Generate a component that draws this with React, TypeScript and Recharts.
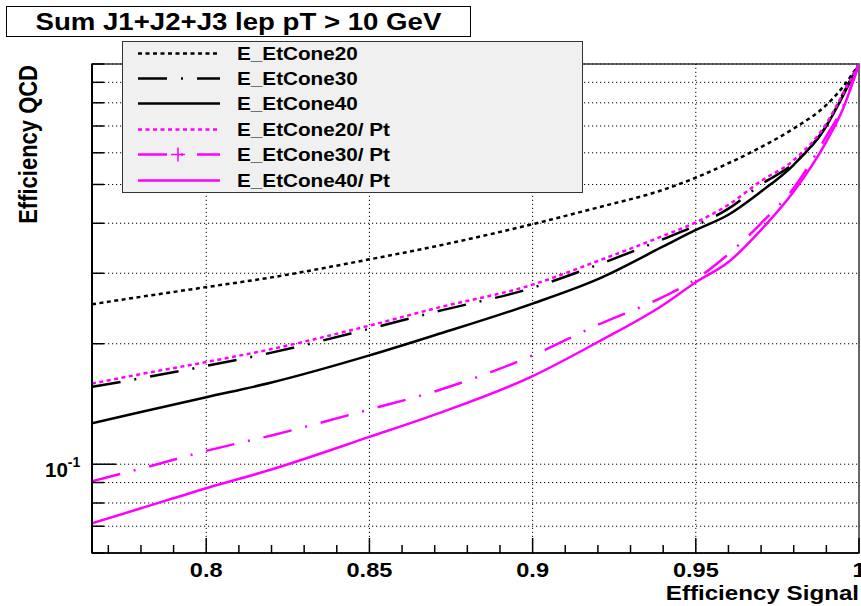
import { LineChart, Line, XAxis, YAxis, CartesianGrid, ReferenceLine, ReferenceArea, Legend } from 'recharts'

// signal efficiency (x) and QCD efficiency (y) for each isolation cut
const EFF_SIGNAL = [0.765, 0.78, 0.8, 0.82, 0.85, 0.87, 0.9, 0.92, 0.94, 0.95, 0.96, 0.97, 0.98, 0.99, 0.995, 1.0]
const ETCONE20 = [0.251, 0.262, 0.277, 0.293, 0.325, 0.35, 0.398, 0.438, 0.485, 0.52, 0.565, 0.62, 0.69, 0.79, 0.875, 1.0]
const ETCONE30 = [0.156, 0.164, 0.176, 0.19, 0.218, 0.24, 0.276, 0.315, 0.365, 0.395, 0.435, 0.5, 0.565, 0.7, 0.84, 1.0]
const ETCONE40 = [0.1266, 0.135, 0.147, 0.16, 0.187, 0.21, 0.252, 0.29, 0.35, 0.385, 0.42, 0.48, 0.56, 0.7, 0.83, 1.0]
const ETCONE20_PT = [0.159, 0.168, 0.18, 0.194, 0.222, 0.245, 0.281, 0.322, 0.372, 0.402, 0.445, 0.51, 0.575, 0.71, 0.84, 1.0]
const ETCONE30_PT = [0.0907, 0.0975, 0.108, 0.118, 0.137, 0.152, 0.187, 0.223, 0.262, 0.29, 0.335, 0.4, 0.49, 0.66, 0.78, 1.0]
const ETCONE40_PT = [0.0712, 0.0776, 0.0871, 0.097, 0.117, 0.133, 0.166, 0.202, 0.25, 0.285, 0.32, 0.385, 0.48, 0.64, 0.77, 1.0]

const X_TICKS = [0.77, 0.78, 0.79, 0.8, 0.81, 0.82, 0.83, 0.84, 0.85, 0.86, 0.87, 0.88, 0.89, 0.9, 0.91, 0.92, 0.93, 0.94, 0.95, 0.96, 0.97, 0.98, 0.99, 1]
const X_LABELS = [0.8, 0.85, 0.9, 0.95, 1]
const Y_TICKS = [0.06, 0.07, 0.08, 0.09, 0.1, 0.2, 0.3, 0.4, 0.5, 0.6, 0.7, 0.8, 0.9, 1]

const DOTTED = '4 3.5'
const DASH_DOT = '29 14 2 14'

const SERIES = [
    { key: 'e20', name: 'E_EtCone20', values: ETCONE20, color: '#000000', dash: DOTTED, marker: false },
    { key: 'e30', name: 'E_EtCone30', values: ETCONE30, color: '#000000', dash: DASH_DOT, marker: false },
    { key: 'e40', name: 'E_EtCone40', values: ETCONE40, color: '#000000', dash: undefined, marker: false },
    { key: 'e20pt', name: 'E_EtCone20/ Pt', values: ETCONE20_PT, color: '#ff00ff', dash: DOTTED, marker: false },
    { key: 'e30pt', name: 'E_EtCone30/ Pt', values: ETCONE30_PT, color: '#ff00ff', dash: DASH_DOT, marker: true },
    { key: 'e40pt', name: 'E_EtCone40/ Pt', values: ETCONE40_PT, color: '#ff00ff', dash: undefined, marker: false },
]

const data = EFF_SIGNAL.map((x, i) => {
    const row: Record<string, number> = { x }
    SERIES.forEach((s) => { row[s.key] = s.values[i] })
    return row
})

const FONT = '"Liberation Sans", Arial, Helvetica, sans-serif'
const PLOT_LEFT = 92
const PLOT_BOTTOM = 553
const STRETCH = 1.15

const XTick = (props: any) => {
    const { x, payload } = props
    const major = X_LABELS.includes(payload.value)
    return (
        <g>
            <line x1={x} x2={x} y1={PLOT_BOTTOM} y2={PLOT_BOTTOM - (major ? 15 : 8)} stroke="#000" strokeWidth={1.5} />
            {major && (
                <text
                    transform={`translate(${x},577) scale(${STRETCH},1)`}
                    textAnchor="middle"
                    fontFamily={FONT}
                    fontWeight="bold"
                    fontSize={20.5}
                    fill="#000"
                >
                    {String(payload.value)}
                </text>
            )}
        </g>
    )
}

const YTick = (props: any) => {
    const { y, payload } = props
    const major = payload.value === 0.1
    return (
        <g>
            <line x1={PLOT_LEFT} x2={PLOT_LEFT + (major ? 24 : 12)} y1={y} y2={y} stroke="#000" strokeWidth={1.5} />
            {major && (
                <text x={45} y={y + 13} fontFamily={FONT} fontWeight="bold" fontSize={20.5} fill="#000">
                    10<tspan dy={-10} fontSize={14}>-1</tspan>
                </text>
            )}
        </g>
    )
}

const LegendBox = () => (
    <div
        style={{
            position: 'relative',
            width: 461,
            height: 152,
            boxSizing: 'border-box',
            background: '#f0f0f0',
            border: '1.5px solid #333',
        }}
    >
        {SERIES.map((s, i) => {
            const cy = 11 + i * 25.4
            return (
                <div key={s.key} style={{ position: 'absolute', left: 0, top: cy - 12.5, height: 25, width: 459 }}>
                    <svg width={110} height={25} style={{ position: 'absolute', left: 0, top: 0 }}>
                        <line x1={15} x2={97} y1={12.5} y2={12.5} stroke={s.color} strokeWidth={2.5} strokeDasharray={s.dash} />
                        {s.marker && (
                            <g stroke={s.color} strokeWidth={1.5}>
                                <line x1={48} x2={62} y1={12.5} y2={12.5} />
                                <line x1={55} x2={55} y1={5.5} y2={19.5} />
                            </g>
                        )}
                    </svg>
                    <span
                        style={{
                            position: 'absolute',
                            left: 114,
                            top: 1,
                            fontFamily: FONT,
                            fontWeight: 'bold',
                            fontSize: 18,
                            lineHeight: '24px',
                            whiteSpace: 'nowrap',
                            transform: `scaleX(${STRETCH})`,
                            transformOrigin: 'left center',
                        }}
                    >
                        {s.name}
                    </span>
                </div>
            )
        })}
    </div>
)

export default function App() {
    return (
        <div style={{ position: 'absolute', left: 0, top: 0, width: 861, height: 606, background: '#fff', overflow: 'hidden' }}>
            <LineChart width={861} height={606} data={data} margin={{ top: 64, right: 2, bottom: 23, left: 32 }}>
                <CartesianGrid vertical={false} stroke="#000" strokeDasharray="1.2 2.8" />
                {X_LABELS.filter((v) => v < 1).map((v) => (
                    <ReferenceLine key={v} x={v} stroke="#000" strokeDasharray="1.2 2.8" />
                ))}
                <XAxis
                    dataKey="x"
                    type="number"
                    domain={[0.765, 1]}
                    allowDataOverflow
                    ticks={X_TICKS}
                    interval={0}
                    height={30}
                    axisLine={{ stroke: '#000', strokeWidth: 1.5 }}
                    tickLine={false}
                    tick={XTick}
                />
                <YAxis
                    type="number"
                    scale="log"
                    domain={[0.06, 1]}
                    allowDataOverflow
                    ticks={Y_TICKS}
                    interval={0}
                    width={60}
                    axisLine={{ stroke: '#000', strokeWidth: 2 }}
                    tickLine={false}
                    tick={YTick}
                />
                <ReferenceArea x1={0.765} x2={1} y1={0.06} y2={1} fill="none" stroke="#333" strokeWidth={1.5} />
                {SERIES.map((s) => (
                    <Line
                        key={s.key}
                        dataKey={s.key}
                        name={s.name}
                        type="monotone"
                        stroke={s.color}
                        strokeWidth={2.5}
                        strokeDasharray={s.dash}
                        dot={false}
                        isAnimationActive={false}
                    />
                ))}
                <Legend
                    layout="vertical"
                    align="center"
                    verticalAlign="middle"
                    content={LegendBox}
                    wrapperStyle={{ left: 122, top: 41, width: 461, height: 152 }}
                />
            </LineChart>
            <div
                style={{
                    position: 'absolute',
                    left: 6,
                    top: 6,
                    width: 465,
                    height: 31,
                    boxSizing: 'border-box',
                    border: '1.5px solid #000',
                    background: '#fff',
                    display: 'flex',
                    alignItems: 'center',
                    justifyContent: 'center',
                }}
            >
                <span
                    style={{
                        fontFamily: FONT,
                        fontWeight: 'bold',
                        fontSize: 24,
                        whiteSpace: 'nowrap',
                        transform: `scaleX(${STRETCH})`,
                    }}
                >
                    Sum J1+J2+J3 lep pT &gt; 10 GeV
                </span>
            </div>
            <div
                style={{
                    position: 'absolute',
                    right: 2,
                    top: 582,
                    fontFamily: FONT,
                    fontWeight: 'bold',
                    fontSize: 21,
                    lineHeight: '21px',
                    whiteSpace: 'nowrap',
                    transform: `scaleX(${STRETCH})`,
                    transformOrigin: 'right center',
                }}
            >
                Efficiency Signal
            </div>
            <svg width={60} height={240} style={{ position: 'absolute', left: 0, top: 0 }}>
                <text
                    transform={`translate(37,65) rotate(-90) scale(1,${STRETCH})`}
                    textAnchor="end"
                    fontFamily={FONT}
                    fontWeight="bold"
                    fontSize={22}
                    fill="#000"
                >
                    Efficiency QCD
                </text>
            </svg>
        </div>
    )
}
